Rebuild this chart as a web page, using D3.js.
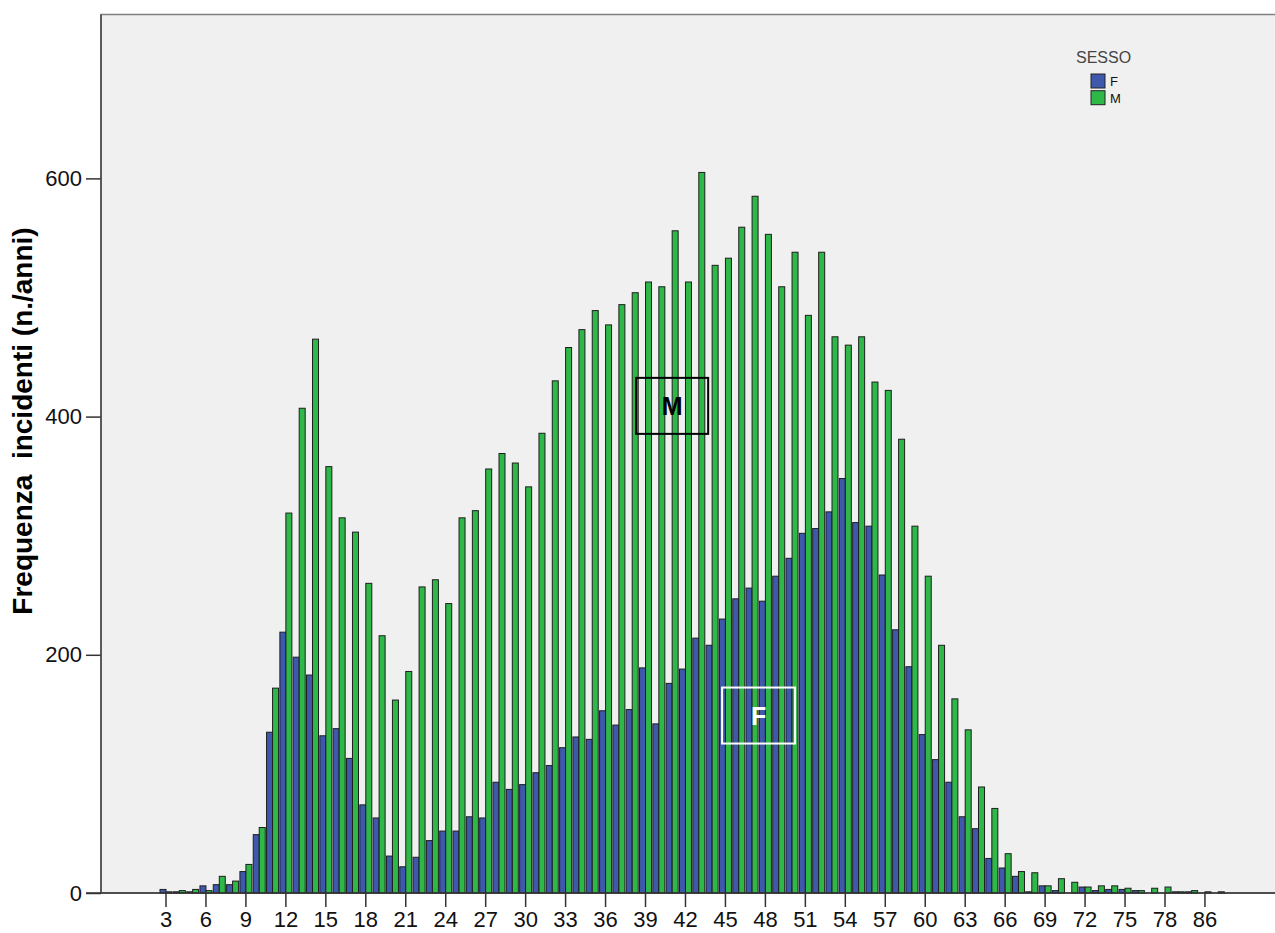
<!DOCTYPE html>
<html>
<head>
<meta charset="utf-8">
<script src="https://cdn.jsdelivr.net/npm/d3@7"></script>
<style>
  body { margin: 0; background: #fff; }
  text { font-family: Arial, "Liberation Sans", sans-serif; }
</style>
</head>
<body>
<script>
var w = 1275;
var h = 933;

// eta' (anni) -- the last categories after 78 are sparse
var ages = [];
for (var a = 3; a <= 78; a++) ages.push(String(a));
ages = ages.concat(["79", "80", "86", "87"]);

// F
var femmine = [3, 1, 1, 6, 7, 7, 18, 49, 135, 219,
               198, 183, 132, 138, 113, 74, 63, 31, 22, 30,
               44, 52, 52, 64, 63, 93, 87, 91, 101, 107,
               122, 131, 129, 153, 141, 154, 189, 142, 176, 188,
               214, 208, 230, 247, 256, 245, 266, 281, 302, 306,
               320, 348, 311, 308, 267, 221, 190, 133, 112, 93,
               64, 54, 29, 21, 14, 1, 6, 2, 0, 5,
               2, 3, 3, 2, 0, 0, 1, 1, 0, 0];
// M
var maschi = [1, 2, 3, 2, 14, 10, 24, 55, 172, 319,
              407, 465, 358, 315, 303, 260, 216, 162, 186, 257,
              263, 243, 315, 321, 356, 369, 361, 341, 386, 430,
              458, 473, 489, 477, 494, 504, 513, 509, 556, 513,
              605, 527, 533, 559, 585, 553, 509, 538, 485, 538,
              467, 460, 467, 429, 422, 381, 308, 266, 208, 163,
              137, 89, 71, 33, 18, 17, 6, 12, 9, 5,
              6, 6, 4, 2, 4, 5, 1, 2, 1, 1];

var sessi = ["F", "M"];
var colori = {F: "#3e58ac", M: "#2eb848"};
var yTicks = [0, 200, 400, 600];

// labels drawn inside the plot
var annotations = [
  {label: "M", age: "41", value: 409, dx: 0, w: 72, h: 56, color: "#000"},
  {label: "F", age: "47", value: 149, dx: 6.5, w: 73, h: 56, color: "#fff"}
];

var plot = {left: 101, top: 14.5, right: 1276, bottom: 893};
var step = 13.32;
var firstCenter = 166;

var svg = d3.select("body").append("svg")
  .attr("width", w)
  .attr("height", h);

var x = d3.scaleBand()
  .domain(ages)
  .range([firstCenter - step / 2, firstCenter - step / 2 + step * ages.length])
  .padding(0);

var x1 = d3.scaleBand()
  .domain(sessi)
  .range([(step - 12) / 2, (step + 12) / 2]);

var y = d3.scaleLinear()
  .domain([0, 737.6])
  .range([plot.bottom, plot.top]);

// background
svg.append("rect")
  .attr("x", plot.left)
  .attr("y", plot.top)
  .attr("width", plot.right - plot.left)
  .attr("height", plot.bottom - plot.top)
  .attr("fill", "#f0f0f0")
  .attr("stroke", "#808080")
  .attr("stroke-width", 1.5);

var rows = ages.map(function(age, i) {
  return {age: age, F: femmine[i], M: maschi[i]};
});

var groups = svg.append("g").selectAll("g.age")
  .data(rows).enter()
  .append("g")
  .attr("class", "age")
  .attr("transform", function(d) { return "translate(" + x(d.age) + ",0)"; });

groups.selectAll("rect")
  .data(function(d) {
    return sessi.map(function(s) { return {sesso: s, value: d[s]}; })
                .filter(function(e) { return e.value > 0; });
  })
  .enter().append("rect")
  .attr("x", function(d) { return x1(d.sesso); })
  .attr("width", x1.bandwidth())
  .attr("y", function(d) { return y(d.value); })
  .attr("height", function(d) { return y(0) - y(d.value); })
  .attr("fill", function(d) { return colori[d.sesso]; })
  .attr("stroke", "#1e1e1e")
  .attr("stroke-width", 1);

// x axis
var tickAges = ages.filter(function(d, i) { return i % 3 === 0; });
var xAxis = d3.axisBottom(x)
  .tickValues(tickAges)
  .tickSize(14)
  .tickSizeOuter(0)
  .tickPadding(4);

var gx = svg.append("g")
  .attr("transform", "translate(0," + plot.bottom + ")")
  .call(xAxis);
gx.select(".domain").remove();
gx.selectAll(".tick line").attr("stroke", "#333").attr("stroke-width", 1.5);
gx.selectAll(".tick text")
  .attr("font-size", 22)
  .attr("fill", "#111")
  .attr("font-family", "Arial, 'Liberation Sans', sans-serif");

svg.append("line")
  .attr("x1", 86).attr("x2", plot.right)
  .attr("y1", plot.bottom).attr("y2", plot.bottom)
  .attr("stroke", "#333").attr("stroke-width", 1.5);

// y axis
var yAxis = d3.axisLeft(y)
  .tickValues(yTicks)
  .tickSize(15)
  .tickSizeOuter(0)
  .tickPadding(4);

var gy = svg.append("g")
  .attr("transform", "translate(" + plot.left + ",0)")
  .call(yAxis);
gy.select(".domain").remove();
gy.selectAll(".tick line").attr("stroke", "#333").attr("stroke-width", 1.5);
gy.selectAll(".tick text")
  .attr("font-size", 22)
  .attr("fill", "#111")
  .attr("font-family", "Arial, 'Liberation Sans', sans-serif");

svg.append("line")
  .attr("x1", plot.left).attr("x2", plot.left)
  .attr("y1", plot.top).attr("y2", plot.bottom)
  .attr("stroke", "#444").attr("stroke-width", 1.5);

svg.append("text")
  .attr("transform", "translate(32,421) rotate(-90)")
  .attr("text-anchor", "middle")
  .attr("font-size", 28)
  .attr("font-weight", "bold")
  .attr("fill", "#000")
  .style("white-space", "pre")
  .text("Frequenza  incidenti (n./anni)");

// annotation boxes
var ann = svg.append("g").selectAll("g")
  .data(annotations).enter()
  .append("g")
  .attr("transform", function(d) {
    return "translate(" + (x(d.age) + x.bandwidth() / 2 + d.dx) + "," + y(d.value) + ")";
  });
ann.append("rect")
  .attr("x", function(d) { return -d.w / 2; })
  .attr("y", function(d) { return -d.h / 2; })
  .attr("width", function(d) { return d.w; })
  .attr("height", function(d) { return d.h; })
  .attr("fill", "none")
  .attr("stroke", function(d) { return d.color; })
  .attr("stroke-width", 2);
ann.append("text")
  .attr("text-anchor", "middle")
  .attr("dy", "0.36em")
  .attr("font-size", 25)
  .attr("font-weight", "bold")
  .attr("fill", function(d) { return d.color; })
  .text(function(d) { return d.label; });

// legend
var legend = svg.append("g").attr("transform", "translate(1076,0)");
legend.append("text")
  .attr("x", 0).attr("y", 63)
  .attr("font-size", 16)
  .attr("fill", "#444")
  .text("SESSO");
var li = legend.selectAll("g.item")
  .data(sessi).enter()
  .append("g")
  .attr("transform", function(d, i) { return "translate(15," + (74 + i * 16.7) + ")"; });
li.append("rect")
  .attr("width", 14).attr("height", 14)
  .attr("fill", function(d) { return colori[d]; })
  .attr("stroke", "#222").attr("stroke-width", 1);
li.append("text")
  .attr("x", 19).attr("y", 12)
  .attr("font-size", 13)
  .attr("fill", "#111")
  .text(function(d) { return d; });
</script>
</body>
</html>
